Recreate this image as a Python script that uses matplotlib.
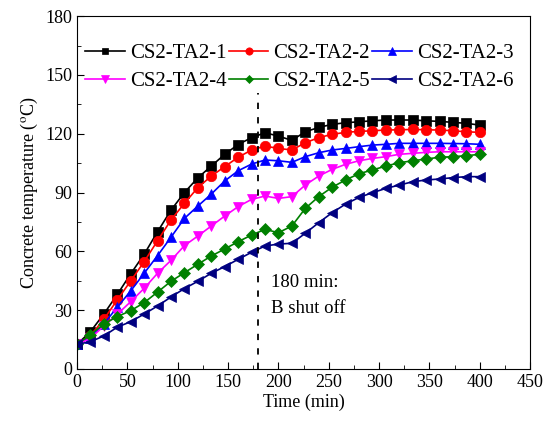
import numpy as np
import matplotlib
matplotlib.use("Agg")
import matplotlib.pyplot as plt
from matplotlib.ticker import MultipleLocator

plt.rcParams['font.family'] = ['Liberation Serif', 'DejaVu Serif']
plt.rcParams['mathtext.fontset'] = 'stix'

# time points (min), 31 readings from 0 to 400
time = np.linspace(0, 400, 31)

labels = ['CS2-TA2-1', 'CS2-TA2-2', 'CS2-TA2-3', 'CS2-TA2-4', 'CS2-TA2-5', 'CS2-TA2-6']

ta1 = [12.5, 19, 28, 38, 48.5, 58.5, 70, 81, 90, 97.5, 103.5, 109.5, 114.5, 118, 120.5,
       118.8, 116.6, 121, 123.2, 124.8, 125.6, 126.1, 126.6, 127, 127, 127, 126.6, 126.3,
       125.8, 125.3, 124.4]
ta2 = [12.5, 17, 25.3, 35.2, 44.9, 54.7, 65.4, 76, 84.5, 92.5, 98.4, 103.2, 108, 111.7, 113.7,
       112.5, 111.7, 115.4, 118, 119.7, 120.7, 121.2, 121.5, 121.9, 122, 122.2, 122, 121.9,
       121.5, 121, 120.7]
ta3 = [12.5, 16, 23, 31.5, 39.8, 48.8, 57.8, 67.2, 76.8, 83.1, 89.2, 95.9, 101.1, 104.5, 106.6,
       106.2, 105.4, 108.3, 110.3, 111.7, 112.5, 113.4, 114.2, 114.6, 115.1, 115.1, 115.1, 115.1,
       115, 114.9, 114.6]
ta4 = [12.5, 15.6, 21.9, 27.9, 34.3, 41.1, 48.8, 55.4, 62.9, 67.8, 72.9, 78, 82.8, 86.5, 88.2,
       87, 87.9, 93.8, 98.4, 101.8, 104.4, 106.2, 107.4, 108.3, 109.5, 110, 110.5, 110.8,
       110.8, 110.8, 110.8]
ta5 = [12.5, 17.5, 22.9, 26.7, 29.7, 33.8, 39.2, 44.7, 49.1, 53.4, 57.6, 61.2, 64.9, 68.3, 71.2,
       69.5, 72.9, 81.9, 87.9, 92.7, 96.4, 99.6, 101.5, 103.5, 105.2, 106.2, 107.1, 108,
       108.3, 108.8, 109.5]
ta6 = [12.5, 13.9, 16.8, 21.3, 24.1, 28, 32.1, 36.7, 41, 44.7, 48.8, 52.2, 55.9, 59.5, 62.7,
       63.7, 64.1, 69.2, 74.6, 79.7, 84.1, 87.5, 89.9, 92.1, 93.8, 95.5, 96.4, 96.9, 97.6,
       98.1, 98.1]

series = [ta1, ta2, ta3, ta4, ta5, ta6]
colors = ['black', 'red', 'blue', 'magenta', 'green', 'navy']
markers = ['s', 'o', '^', 'v', 'D', '<']
msizes = [7, 7.5, 7.5, 7.5, 6, 7.5]

fig = plt.figure(figsize=(5.5, 4.25), dpi=100)
ax = fig.add_axes([0.14, 0.132, 0.824, 0.830])

lines = []
for y, c, m, ms, lab in zip(series, colors, markers, msizes, labels):
    ln, = ax.plot(time, y, color=c, marker=m, markersize=ms, linewidth=1.2,
                  markeredgewidth=0.5, label=lab)
    lines.append(ln)

# shut-off marker
ax.plot([180, 180], [0, 141], color='black', linestyle=(0, (3.5, 4.5)), linewidth=1.3)
ax.text(193, 44, '180 min:', fontsize=13.5, va='center')
ax.text(193, 31, 'B shut off', fontsize=13.5, va='center')

ax.set_xlim(0, 450)
ax.set_ylim(0, 180)
ax.xaxis.set_major_locator(MultipleLocator(50))
ax.xaxis.set_minor_locator(MultipleLocator(25))
ax.yaxis.set_major_locator(MultipleLocator(30))
ax.yaxis.set_minor_locator(MultipleLocator(15))
ax.tick_params(which='both', direction='in', labelsize=13)
ax.tick_params(which='major', length=5)
ax.tick_params(which='minor', length=3)

ax.set_xlabel('Time (min)', fontsize=13, labelpad=2)
ax.set_ylabel(r'Concrete temperature ($^{\mathrm{o}}$C)', fontsize=13, labelpad=4)

# legend fills row by row in the original
order = [0, 3, 1, 4, 2, 5]
ax.legend([lines[i] for i in order], [labels[i] for i in order],
          loc='upper left', ncol=3, frameon=False, fontsize=15, handlelength=1.9,
          handletextpad=0.25, columnspacing=0.1, labelspacing=0.4,
          markerscale=0.7, borderaxespad=0, bbox_to_anchor=(0.0, 0.946))

fig.savefig('out.png', dpi=100)
